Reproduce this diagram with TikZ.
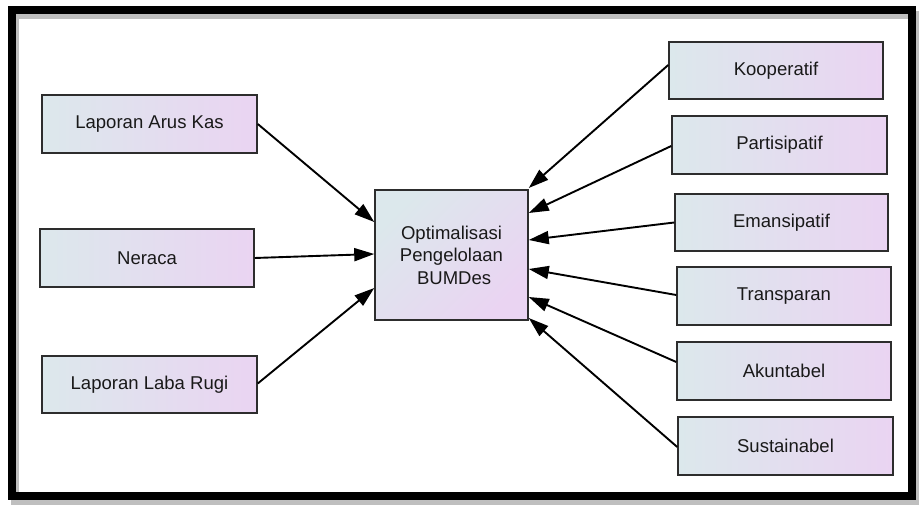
\documentclass[tikz,border=0pt]{standalone}
\usepackage{fontspec}
\setmainfont{Liberation Sans}
\usetikzlibrary{arrows.meta}
\definecolor{boxL}{RGB}{220,232,236}
\definecolor{boxR}{RGB}{234,212,242}
\definecolor{boxline}{RGB}{45,45,45}
\definecolor{txt}{RGB}{25,25,25}
\begin{document}
\begin{tikzpicture}[x=1bp,y=-1bp,
  box/.style={draw=boxline, line width=1.5bp, left color=boxL, right color=boxR,
    inner sep=0pt, text=txt, font=\fontsize{18.6}{22.5}\selectfont, align=center},
  conn/.style={line width=1.9bp, -{Triangle[length=20bp,width=13bp]}}]
\useasboundingbox (0,0) rectangle (920,506);
% frame with shadow
\draw[gray!50, line width=8bp] (14.5,15) rectangle (915,501);
\draw[black, line width=8bp] (11.5,10) rectangle (912,496);
% left boxes
\node[box, minimum width=215bp, minimum height=58bp] (A) at (149.5,124) {Laporan Arus Kas};
\node[box, minimum width=214bp, minimum height=58bp] (N) at (147,258) {Neraca};
\node[box, minimum width=215bp, minimum height=57bp] (L) at (149.5,384.5) {Laporan Laba Rugi};
% center
\node[box, minimum width=153bp, minimum height=130bp, left color=boxL, right color=boxR, shading angle=45] (C) at (451.5,255) {Optimalisasi\\Pengelolaan\\\ BUMDes};
% right boxes
\node[box, minimum width=214bp, minimum height=57bp] (K) at (776,70.5) {Kooperatif};
\node[box, minimum width=215bp, minimum height=58bp] (P) at (779.5,145) {Partisipatif};
\node[box, minimum width=213bp, minimum height=57bp] (E) at (781.5,222.5) {Emansipatif};
\node[box, minimum width=214bp, minimum height=58bp] (T) at (784,296) {Transparan};
\node[box, minimum width=214bp, minimum height=58bp] (Ak) at (784,371) {Akuntabel};
\node[box, minimum width=215bp, minimum height=58bp] (S) at (785.5,446) {Sustainabel};
% connectors
\draw[conn] (A.east) -- ([yshift=33bp]C.west);
\draw[conn] (N.east) -- ([yshift=1bp]C.west);
\draw[conn] ([yshift=1bp]L.east) -- ([yshift=-33bp]C.west);
\draw[conn] ([yshift=5.5bp]K.west) -- ([yshift=67bp]C.east);
\draw[conn] ([yshift=-1bp]P.west) -- ([yshift=42bp]C.east);
\draw[conn] (E.west) -- ([yshift=15bp]C.east);
\draw[conn] ([yshift=1bp]T.west) -- ([yshift=-14bp]C.east);
\draw[conn] ([yshift=9bp]Ak.west) -- ([yshift=-42bp]C.east);
\draw[conn] ([yshift=-1bp]S.west) -- ([yshift=-63bp]C.east);
\end{tikzpicture}
\end{document}
